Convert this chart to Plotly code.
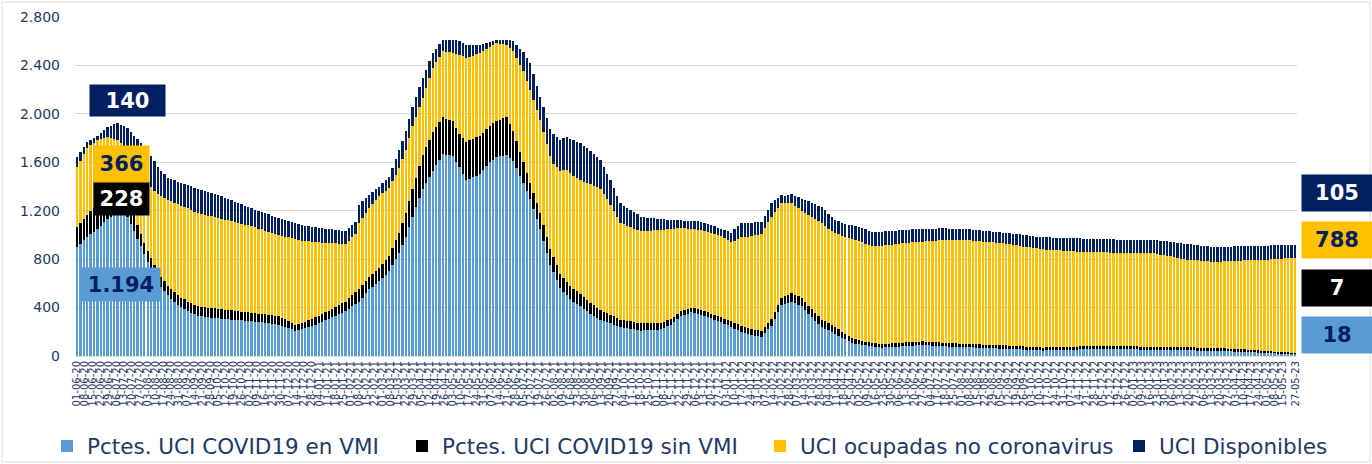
import plotly.graph_objects as go
import pandas as pd

# ---- data (one bar every 3 days, 01-06-2020 .. 26-05-2023) ----
start_date = "2020-06-01"
n_bars = 364

vmi = [  # Pctes. UCI COVID19 en VMI
    900, 928, 957, 985, 1007, 1028, 1050, 1077, 1103, 1130, 1151, 1173, 1194, 1180, 1165, 1150,
    1090, 1030, 970, 907, 843, 780, 723, 667, 610, 573, 537, 500, 473, 447, 420, 403, 387, 370,
    357, 343, 330,
    327, 323, 320, 317, 313, 310,
    308, 306, 303, 301, 299, 297, 294, 292, 290,
    287, 283, 280, 277, 273, 270, 267, 263, 260,
    250, 240, 230, 220, 210,
    215, 220,
    230, 240, 250, 260, 270,
    282, 295, 307, 320, 332, 345, 357, 370,
    390, 410, 430, 450,
    483, 517, 550, 573, 597, 620, 647, 673, 700, 750, 800, 850, 915, 980, 1065, 1150,
    1227, 1303, 1380, 1430, 1480, 1530, 1577, 1623, 1670, 1663, 1657, 1650, 1605, 1560, 1505, 1450,
    1463, 1475, 1488, 1500, 1533, 1567, 1600, 1622, 1645, 1650, 1655, 1660, 1635, 1610,
    1550, 1490, 1430, 1365, 1300, 1217, 1133, 1050, 950, 850, 750, 690, 625, 560,
    530, 500, 470, 450, 430, 410, 390, 370, 350, 333, 317, 300,
    290, 280, 270, 260, 250, 240,
    235, 230, 225, 220, 215, 210,
    212, 213, 215, 217, 218, 220,
    233, 247, 260, 283, 307, 330, 340, 350, 360, 353, 347, 340,
    330, 320, 310, 300, 290, 280,
    267, 253, 240, 227, 213, 200,
    190, 180, 170, 167, 163, 160, 190, 220, 250, 307, 363, 420, 430, 440, 450, 437, 423, 410,
    380, 350, 320, 293, 267, 240, 227, 213, 200, 183, 167, 150, 137, 123, 110, 103, 97, 90,
    87, 83, 80, 77, 73, 70,
    72, 73, 75, 77, 78, 80,
    82, 83, 85, 87, 88, 90,
    88, 87, 85, 83, 82, 80,
    79, 78, 77, 77, 76, 75,
    74, 72, 71, 70, 69, 67, 66, 65, 64, 62, 61, 60,
    59, 57, 56, 55, 54, 52, 51, 50, 49, 47, 46, 45,
    46, 47, 47, 48, 49, 50, 51, 52, 53, 53, 54, 55,
    55, 55, 55, 55, 55, 55, 55, 55, 55, 55, 55, 55,
    55, 54, 54, 54, 53, 53, 52, 52, 51, 51, 50, 50,
    50, 49, 49, 48, 48, 47, 47, 46, 46, 45, 45, 45,
    44, 43, 42, 42, 41, 40, 39, 38, 37, 37, 36, 35,
    34, 33, 32, 31, 30, 28, 27, 26, 25, 24, 23, 22, 21, 20, 18,
]

sin_vmi = [  # Pctes. UCI COVID19 sin VMI
    165, 170, 175, 180, 187, 193, 200, 207, 213, 220, 223, 225, 228, 212, 196, 180,
    157, 133, 110, 102, 93, 85, 85, 85, 85, 83, 82, 80,
    80, 80, 80, 80, 80, 80, 80, 80, 80, 80, 80, 80, 80, 80, 80,
    79, 78, 77, 76, 74, 73, 72, 71, 70,
    70, 70, 70, 70, 70, 70, 70, 70, 70,
    66, 62, 58, 54, 50,
    51, 53, 54, 56, 57, 59, 60,
    62, 65, 67, 70, 72, 75, 77, 80,
    85, 90, 95, 100,
    100, 100, 100, 103, 107, 110, 117, 123, 130, 143, 157, 170, 185, 200, 215, 230,
    247, 263, 280, 293, 307, 320, 313, 307, 300, 297, 293, 290, 280, 270, 295, 320,
    320, 320, 320, 320, 313, 307, 300, 300, 300, 303, 307, 310, 280, 250,
    223, 197, 170, 150, 130, 130, 130, 130, 130, 130, 130, 130, 125, 120,
    115, 110, 108, 105, 103, 100, 97, 93, 90, 87, 83, 80,
    77, 73, 70, 67, 63, 60,
    60, 60, 60, 60, 60, 60,
    58, 57, 55, 53, 52, 50,
    48, 47, 45, 43, 42, 40, 40, 40, 40, 40, 40, 40,
    40, 40, 40, 40, 40, 40,
    42, 43, 45, 47, 48, 50,
    50, 50, 50, 50, 50, 50, 52, 53, 55, 57, 58, 60, 63, 67, 70, 70, 70, 70,
    68, 67, 65, 63, 62, 60, 58, 57, 55, 53, 52, 50, 47, 43, 40, 37, 33, 30,
    30, 30, 30, 30, 30, 30,
    30, 30, 30, 30, 30, 30,
    30, 30, 30, 30, 30, 30,
    30, 30, 30, 30, 30, 30,
    29, 28, 27, 27, 26, 25,
    25, 26, 26, 27, 27, 27, 28, 28, 29, 29, 30, 30,
    30, 29, 29, 28, 28, 27, 27, 27, 26, 26, 25, 25,
    25, 25, 25, 25, 25, 25, 25, 25, 25, 25, 25, 25,
    25, 25, 25, 25, 25, 25, 25, 25, 25, 25, 25, 25,
    25, 25, 25, 25, 25, 25, 25, 25, 25, 25, 25, 25,
    25, 25, 25, 25, 25, 25, 25, 25, 25, 25, 25, 25,
    25, 24, 24, 23, 23, 22, 22, 22, 21, 21, 20, 20,
    19, 18, 17, 16, 15, 14, 13, 12, 11, 11, 10, 9, 8, 8, 7,
]

no_covid = [  # UCI ocupadas no coronavirus
    495, 515, 535, 555, 547, 538, 530, 507, 483, 460, 429, 397, 366, 367, 369, 370,
    403, 437, 470, 498, 527, 555, 585, 615, 645, 667, 688, 710, 725, 740, 755, 760, 765, 770,
    770, 770, 770,
    767, 763, 760, 757, 753, 750,
    747, 743, 740, 737, 733, 730, 727, 723, 720,
    714, 709, 703, 698, 692, 687, 681, 676, 670,
    677, 684, 691, 698, 705,
    691, 678,
    664, 651, 637, 624, 610,
    593, 576, 559, 543, 526, 509, 492, 475,
    478, 482, 485, 550,
    557, 563, 570, 577, 583, 590, 580, 570, 560, 550, 540, 530, 528, 525, 523, 520,
    503, 487, 470, 490, 510, 530, 537, 543, 550, 555, 560, 565, 612, 660, 675, 690,
    688, 685, 683, 680, 670, 660, 650, 645, 640, 627, 613, 600, 630, 660,
    690, 720, 750, 760, 770, 770, 770, 770, 770, 770, 770, 770, 810, 850,
    890, 930, 933, 935, 938, 940, 953, 967, 980, 987, 993, 1000,
    970, 940, 910, 873, 837, 800,
    793, 787, 780, 773, 767, 760,
    762, 763, 765, 767, 768, 770,
    762, 753, 745, 727, 708, 690, 677, 663, 650, 653, 657, 660,
    662, 663, 665, 667, 668, 670,
    665, 660, 655, 680, 705, 730,
    743, 757, 770, 780, 790, 800, 815, 830, 845, 823, 802, 780, 767, 753, 740, 733, 727, 720,
    735, 750, 765, 777, 788, 800, 792, 783, 775, 780, 785, 790, 800, 810, 820, 820, 820, 820,
    812, 803, 795, 800, 805, 810,
    812, 813, 815, 817, 818, 820,
    821, 822, 823, 823, 824, 825,
    829, 833, 837, 840, 844, 848,
    850, 852, 854, 856, 858, 860,
    858, 857, 855, 853, 852, 850, 848, 847, 845, 843, 842, 840,
    838, 835, 833, 830, 828, 825, 823, 820, 818, 815, 813, 810,
    808, 805, 803, 800, 798, 795, 793, 790, 788, 785, 783, 780,
    779, 778, 778, 777, 776, 775, 775, 774, 773, 772, 771, 770,
    770, 771, 771, 771, 772, 772, 772, 773, 773, 768, 763, 758,
    753, 748, 743, 737, 732, 727, 725, 723, 721, 720, 718, 716,
    714, 713, 711, 714, 716, 719, 722, 724, 727, 730, 732, 735,
    738, 741, 744, 747, 750, 753, 756, 760, 763, 767, 771, 775, 779, 783, 788,
]

disponibles = [  # UCI Disponibles
    80, 70, 60, 50, 47, 43, 40, 53, 67, 80, 100, 120, 140, 153, 167, 180,
    200, 220, 240, 253, 267, 280, 260, 240, 220, 207, 193, 180, 182, 184, 186, 188, 190, 193,
    195, 198, 200,
    198, 197, 195, 193, 192, 190,
    186, 181, 177, 172, 168, 163, 159, 154, 150,
    149, 148, 147, 146, 144, 143, 142, 141, 140,
    138, 137, 135, 133, 132,
    130, 128,
    127, 125, 123, 122, 120,
    118, 116, 114, 113, 111, 109, 107, 105,
    103, 102, 100, 150,
    137, 123, 110, 100, 90, 80, 83, 87, 90, 110, 130, 150, 151, 152, 154, 155,
    160, 165, 170, 153, 137, 120, 110, 100, 90, 95, 100, 105, 110, 110, 110, 110,
    100, 90, 80, 70, 61, 52, 43, 34, 25, 30, 35, 40, 63, 85,
    108, 130, 160, 190, 220, 210, 200, 190, 203, 215, 228, 240, 248, 255,
    263, 270, 280, 290, 300, 310, 298, 287, 275, 263, 252, 240,
    227, 213, 200, 187, 173, 160,
    153, 147, 140, 133, 127, 120,
    115, 110, 105, 100, 95, 90,
    85, 80, 75, 70, 65, 60, 62, 63, 65, 67, 68, 70,
    68, 67, 65, 63, 62, 60,
    67, 73, 80, 93, 107, 120,
    117, 113, 110, 107, 103, 100, 103, 107, 110, 98, 85, 73, 60, 68, 76, 84, 92, 100,
    105, 110, 115, 120, 125, 130, 125, 120, 115, 110, 110, 110, 110, 110, 110, 112, 113, 115,
    117, 118, 120, 119, 118, 117,
    116, 114, 113, 112, 111, 110,
    109, 108, 107, 106, 104, 103,
    102, 101, 100, 99, 98, 97,
    96, 94, 93, 92, 91, 90,
    90, 90, 90, 90, 90, 90, 90, 90, 90, 90, 90, 90,
    91, 92, 92, 93, 94, 95, 96, 97, 98, 98, 99, 100,
    101, 102, 102, 103, 104, 105, 106, 107, 108, 108, 109, 110,
    110, 110, 110, 110, 110, 110, 110, 110, 110, 110, 110, 110,
    110, 110, 110, 110, 110, 110, 110, 110, 110, 112, 114, 117,
    119, 121, 123, 126, 128, 130, 129, 128, 127, 126, 124, 123,
    122, 121, 120, 120, 120, 120, 120, 120, 120, 120, 120, 120,
    119, 119, 118, 118, 117, 117, 116, 116, 115, 113, 112, 110, 108, 107, 105,
]

series_names = ["Pctes. UCI COVID19 en VMI", "Pctes. UCI COVID19 sin VMI",
                "UCI ocupadas no coronavirus", "UCI Disponibles"]
series_colors = ["#5B9BD5", "#000000", "#FFC000", "#002060"]

# highlighted values: first peak (left) and last day (right)
peak_labels = ["1.194", "228", "366", "140"]
last_labels = ["18", "7", "788", "105"]

y_ticks = [0, 400, 800, 1200, 1600, 2000, 2400, 2800]
y_tick_text = ["0", "400", "800", "1.200", "1.600", "2.000", "2.400", "2.800"]

lens = [len(vmi), len(sin_vmi), len(no_covid), len(disponibles)]
assert lens == [n_bars] * 4, f"length mismatch {lens}"

dates = pd.date_range(start_date, periods=n_bars, freq="3D")
tick_dates = list(pd.date_range("2020-06-01", "2023-05-21", freq="7D")) + [pd.Timestamp("2023-05-27")]
tick_text = [d.strftime("%d-%m-%y") for d in tick_dates]

NAVY_TXT = "#1F3864"
FONT = "DejaVu Sans"
W, H = 1372, 464

fig = go.Figure()
all_series = [vmi, sin_vmi, no_covid, disponibles]
legend_ids = ["legend", "legend2", "legend3", "legend4"]
for name, vals, col, lg in zip(series_names, all_series, series_colors, legend_ids):
    fig.add_trace(go.Bar(x=dates, y=vals, name=name, marker_color=col,
                         marker_line_width=0, legend=lg))

# plot area in pixels: left 75, right 1297, top 17, bottom 356
L, R, T, B = 75, 1297, 17, 356
def px(x):
    return (x - L) / (R - L)
def py(y):
    return (B - y) / (B - T)

legend_common = dict(orientation="h", yanchor="middle", xanchor="left",
                     xref="container", yref="container",
                     y=(H - 446) / H, font=dict(family=FONT, size=21.5, color=NAVY_TXT),
                     bgcolor="rgba(0,0,0,0)", itemwidth=30)
layout_legends = {}
for lg, xpix in zip(legend_ids, [47, 402, 760, 1119]):
    layout_legends[lg] = dict(legend_common, x=xpix / W)

fig.update_layout(
    width=W, height=H,
    margin=dict(l=L, r=W - R, t=T, b=H - B, autoexpand=False),
    paper_bgcolor="white", plot_bgcolor="white",
    barmode="stack", bargap=0.3,
    showlegend=True,
    font=dict(family=FONT, color=NAVY_TXT),
    xaxis=dict(type="date", range=["2020-05-30", "2023-05-28"],
               tickmode="array", tickvals=tick_dates, ticktext=tick_text,
               tickangle=-90, tickfont=dict(family=FONT, size=10, color=NAVY_TXT),
               showgrid=False, showline=True, linecolor="#D9D9D9", ticks="",
               automargin=False),
    yaxis=dict(range=[0, 2800], tickmode="array", tickvals=y_ticks, ticktext=y_tick_text,
               tickfont=dict(family=FONT, size=14, color=NAVY_TXT),
               showgrid=True, gridcolor="#D9D9D9", gridwidth=1, zeroline=False,
               ticklabelstandoff=14, automargin=False),
    **layout_legends,
)

# chart border
fig.add_shape(type="rect", xref="paper", yref="paper",
              x0=px(2), x1=px(1370), y0=py(462), y1=py(2),
              line=dict(color="#D9D9D9", width=1), layer="below")

def box(text, cx, cy, w, h, bg, fg):
    fig.add_annotation(text=f"<b>{text}</b>", xref="paper", yref="paper",
                       x=px(cx), y=py(cy), xanchor="center", yanchor="middle",
                       showarrow=False, width=w, height=h, bgcolor=bg, borderpad=0,
                       font=dict(family=FONT, size=21, color=fg), align="center")

text_colors = ["#002060", "#FFFFFF", "#002060", "#FFFFFF"]
# left (peak) boxes
left_pos = [(121, 284, 78, 33), (121, 198, 55, 33), (121, 164, 55, 36), (127, 100, 75, 31)]
for lab, (cx, cy, w, h), bg, fg in zip(peak_labels, left_pos, series_colors, text_colors):
    box(lab, cx, cy, w, h, bg, fg)
# right (last value) boxes
right_y = [335, 288, 240, 193]
for lab, cy, bg, fg in zip(last_labels, right_y, series_colors, text_colors):
    box(lab, 1337, cy, 70, 36, bg, fg)

fig.write_html(
    "out.html",
    config={"displayModeBar": False},
    post_script="document.body.style.margin='0';document.body.style.overflow='hidden';",
)
